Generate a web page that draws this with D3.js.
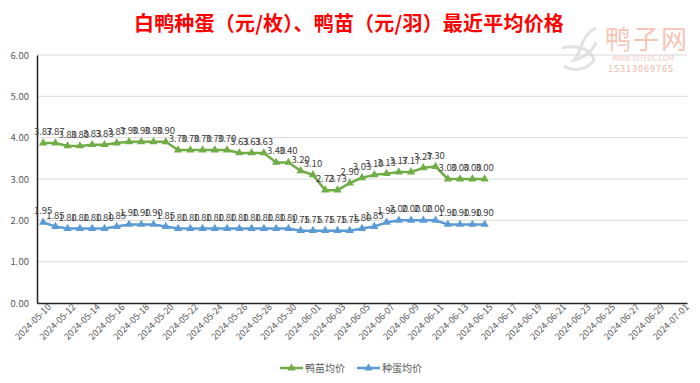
<!DOCTYPE html>
<html lang="zh">
<head>
<meta charset="UTF-8">
<title>白鸭种蛋、鸭苗最近平均价格</title>
<style>
  body { margin: 0; background: #fff; }
  svg text { font-family: "Noto Sans CJK SC", "Noto Sans", sans-serif; }
</style>
</head>
<body>
<svg id="chart" width="700" height="383"></svg>
<script src="https://d3js.org/d3.v7.min.js"></script>
<script>
// categories: every day from 2024-05-10 to 2024-07-01
const startDate = new Date(2024, 4, 10);
const endDate = new Date(2024, 6, 1);
const fmt = d3.timeFormat("%Y-%m-%d");
const dates = d3.timeDay.range(startDate, d3.timeDay.offset(endDate, 1)).map(fmt);

// 鸭苗均价 (元/羽), 05-10 .. 06-15
const duckling = [3.87, 3.87, 3.80, 3.80, 3.83, 3.83, 3.87, 3.90, 3.90, 3.90, 3.90,
  3.70, 3.70, 3.70, 3.70, 3.70, 3.63, 3.63, 3.63, 3.40, 3.40, 3.20, 3.10,
  2.73, 2.73, 2.90, 3.03, 3.10, 3.13, 3.17, 3.17, 3.27, 3.30, 3.00, 3.00, 3.00, 3.00];
// 种蛋均价 (元/枚), 05-10 .. 06-15
const eggs = [1.95, 1.85, 1.80, 1.80, 1.80, 1.80, 1.85, 1.90, 1.90, 1.90, 1.85,
  1.80, 1.80, 1.80, 1.80, 1.80, 1.80, 1.80, 1.80, 1.80, 1.80,
  1.75, 1.75, 1.75, 1.75, 1.75, 1.80, 1.85, 1.95, 2.00, 2.00, 2.00, 2.00,
  1.90, 1.90, 1.90, 1.90];
const yTicks = [0, 1, 2, 3, 4, 5, 6];

const series = [
  { name: "鸭苗均价", values: duckling, color: "#70AD47" },
  { name: "种蛋均价", values: eggs, color: "#5B9BD5" }
];

const svg = d3.select("#chart");
const margin = { left: 37, right: 13, top: 55, bottom: 80 };
const width = 700, height = 383;

const x = d3.scaleBand().domain(dates).range([margin.left, width - margin.right]);
const y = d3.scaleLinear().domain([0, 6]).range([height - margin.bottom, margin.top]);
const cx = d => x(d) + x.bandwidth() / 2;

// watermark
const wm = svg.append("g");
wm.append("path")
  .attr("d", "M596,28 C580,36 582,52 574,60 C584,58 594,50 596,42 M562,48 C578,44 592,50 594,60 C588,70 572,72 564,66")
  .attr("fill", "none").attr("stroke", "#e2e2e2").attr("stroke-width", 3);
wm.append("text").attr("x", 647).attr("y", 49).attr("text-anchor", "middle")
  .attr("font-size", 26).attr("fill", "#f7c4b6").attr("letter-spacing", 2).text("鸭子网");
wm.append("text").attr("x", 643).attr("y", 61).attr("text-anchor", "middle")
  .attr("font-size", 7).attr("fill", "#f3c9c0").text("WWW.INTEDC.COM");
wm.append("text").attr("x", 641).attr("y", 72).attr("text-anchor", "middle")
  .attr("font-size", 9).attr("fill", "#f2b8aa").attr("letter-spacing", 1).text("15313069765");

// title
svg.append("text").attr("x", 349).attr("y", 31).attr("text-anchor", "middle")
  .attr("font-size", 20).attr("font-weight", "bold").attr("fill", "#ff0000")
  .attr("letter-spacing", 0.2)
  .text("白鸭种蛋（元/枚）、鸭苗（元/羽）最近平均价格");

// grid
svg.append("g").selectAll("line").data(yTicks.slice(1)).join("line")
  .attr("x1", margin.left).attr("x2", width - margin.right)
  .attr("y1", d => y(d)).attr("y2", d => y(d))
  .attr("stroke", "#d9d9d9").attr("stroke-width", 1);

// y axis
const yAxis = svg.append("g").attr("transform", `translate(${margin.left},0)`)
  .call(d3.axisLeft(y).tickValues(yTicks).tickFormat(d3.format(".2f")).tickSize(0).tickPadding(8));
yAxis.select(".domain").attr("stroke", "#222").attr("stroke-width", 1.5);
yAxis.selectAll("text").attr("font-size", 9.5).attr("fill", "#595959")
  .attr("font-family", "Liberation Sans, sans-serif");

// x axis
const xAxis = svg.append("g").attr("transform", `translate(0,${y(0)})`)
  .call(d3.axisBottom(x).tickValues(dates.filter((d, i) => i % 2 === 0)).tickSize(0).tickPadding(4));
xAxis.select(".domain").attr("stroke", "#222").attr("stroke-width", 1.5);
xAxis.selectAll("text").attr("font-size", 9).attr("fill", "#595959")
  .attr("font-family", "Liberation Sans, sans-serif")
  .attr("text-anchor", "end").attr("dx", "0.3em").attr("dy", "0.6em")
  .attr("transform", "rotate(-45)");

// lines, markers, labels
const tri = d3.symbol().type(d3.symbolTriangle).size(30);
series.forEach(s => {
  const pts = s.values.map((v, i) => ({ date: dates[i], v }));
  svg.append("path").datum(pts)
    .attr("fill", "none").attr("stroke", s.color).attr("stroke-width", 2.5)
    .attr("stroke-linejoin", "round")
    .attr("d", d3.line().x(d => cx(d.date)).y(d => y(d.v)));
  svg.append("g").selectAll("path").data(pts).join("path")
    .attr("d", tri).attr("fill", s.color)
    .attr("transform", d => `translate(${cx(d.date)},${y(d.v)})`);
  svg.append("g").selectAll("text").data(pts).join("text")
    .attr("x", d => cx(d.date)).attr("y", d => y(d.v) - 8)
    .attr("text-anchor", "middle").attr("font-size", 9.5).attr("fill", "#404040")
    .attr("font-family", "Liberation Sans, sans-serif")
    .text(d => d.v.toFixed(2));
});

// legend
const legend = svg.append("g").selectAll("g").data(series).join("g")
  .attr("transform", (d, i) => `translate(280,368) translate(${i * 77},0)`);
legend.append("line").attr("x1", 0).attr("x2", 23).attr("y1", 0).attr("y2", 0)
  .attr("stroke", d => d.color).attr("stroke-width", 2.5);
legend.append("path").attr("d", tri).attr("fill", d => d.color)
  .attr("transform", "translate(11.5,0)");
legend.append("text").attr("x", 25).attr("y", 0).attr("dy", "0.35em")
  .attr("font-size", 10).attr("fill", "#595959").text(d => d.name);
</script>
</body>
</html>
